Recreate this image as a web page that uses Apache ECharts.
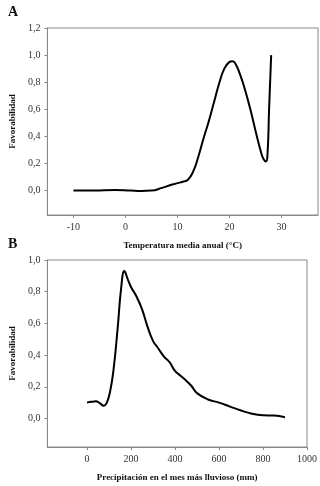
<!DOCTYPE html>
<html>
<head>
<meta charset="utf-8">
<script src="https://cdn.jsdelivr.net/npm/echarts@6/dist/echarts.min.js"></script>
<style>
  html, body { margin: 0; padding: 0; background: #fff; }
  #main { width: 320px; height: 486px; }
</style>
</head>
<body>
<div id="main"></div>
<script>
// panel A: temperatura media anual
const tempX = [-10, -6, -2, 1, 3, 5, 7, 9, 10, 11, 12, 13, 14, 15, 16, 17, 18, 19, 20, 20.5, 21, 22, 23, 24, 25, 26, 26.5, 27, 27.3, 27.6, 27.85, 28];
const tempFav = [0, 0, 0.005, 0, -0.003, 0, 0.02, 0.045, 0.055, 0.065, 0.08, 0.14, 0.25, 0.385, 0.51, 0.65, 0.79, 0.9, 0.95, 0.955, 0.945, 0.86, 0.74, 0.6, 0.44, 0.29, 0.235, 0.215, 0.27, 0.6, 0.85, 1.0];
const tempTicks = [-10, 0, 10, 20, 30];

// panel B: precipitación en el mes más lluvioso
const precX = [0, 20, 40, 60, 75, 90, 105, 120, 140, 155, 170, 185, 200, 225, 250, 275, 300, 325, 350, 375, 400, 425, 450, 475, 500, 550, 600, 650, 700, 750, 800, 850, 900];
const precFav = [0.1, 0.105, 0.108, 0.095, 0.08, 0.1, 0.17, 0.3, 0.58, 0.82, 0.93, 0.88, 0.83, 0.77, 0.69, 0.58, 0.49, 0.44, 0.39, 0.355, 0.3, 0.27, 0.24, 0.205, 0.16, 0.12, 0.1, 0.075, 0.05, 0.03, 0.02, 0.018, 0.008];
const precTicks = [0, 200, 400, 600, 800, 1000];

const favTicksA = [0, 0.2, 0.4, 0.6, 0.8, 1.0, 1.2];
const favTicksB = [0, 0.2, 0.4, 0.6, 0.8, 1.0];

const serif = '"Liberation Serif", "DejaVu Serif", serif';
const comma = v => v.toFixed(1).replace('.', ',');

function xAx(idx, min, max, ticks, name) {
  return {
    type: 'value', gridIndex: idx, min: min, max: max,
    splitLine: { show: false },
    axisLine: { onZero: false, lineStyle: { color: '#888', width: 1 } },
    axisTick: { customValues: ticks, length: 3, lineStyle: { color: '#888' } },
    axisLabel: { customValues: ticks, formatter: v => String(v), fontFamily: serif, fontSize: 10, color: '#333', margin: 7 },
    name: name, nameLocation: 'middle', nameGap: 26,
    nameTextStyle: { fontFamily: serif, fontSize: 9, fontWeight: 'bold', color: '#111' }
  };
}

function yAx(idx, max, ticks) {
  return {
    type: 'value', gridIndex: idx, min: -0.18, max: max,
    splitLine: { show: false },
    axisLine: { show: true, onZero: false, lineStyle: { color: '#888', width: 1 } },
    axisTick: { show: true, customValues: ticks, length: 3, lineStyle: { color: '#888' } },
    axisLabel: { customValues: ticks, formatter: comma, fontFamily: serif, fontSize: 10, color: '#333', margin: 7 },
    name: 'Favorabilidad', nameLocation: 'middle', nameGap: 27,
    nameTextStyle: { fontFamily: serif, fontSize: 9, fontWeight: 'bold', color: '#111' }
  };
}

const chart = echarts.init(document.getElementById('main'));
chart.setOption({
  animation: false,
  title: [
    { text: 'A', left: 3, top: 0, textStyle: { fontFamily: serif, fontSize: 14, fontWeight: 'bold', color: '#111' } },
    { text: 'B', left: 3, top: 232, textStyle: { fontFamily: serif, fontSize: 14, fontWeight: 'bold', color: '#111' } }
  ],
  grid: [
    { left: 46, top: 28, right: 2, height: 187, show: true, borderColor: '#888', borderWidth: 1 },
    { left: 46, top: 260, right: 11, height: 187, show: true, borderColor: '#888', borderWidth: 1 }
  ],
  xAxis: [
    xAx(0, -15, 37, tempTicks, 'Temperatura media anual (°C)'),
    xAx(1, -180, 1000, precTicks, 'Precipitación en el mes más lluvioso (mm)')
  ],
  yAxis: [
    yAx(0, 1.2, favTicksA),
    yAx(1, 1.0, favTicksB)
  ],
  series: [
    {
      type: 'line', xAxisIndex: 0, yAxisIndex: 0, smooth: 0.5, showSymbol: false,
      lineStyle: { color: '#000', width: 2 },
      data: tempX.map((x, i) => [x, tempFav[i]])
    },
    {
      type: 'line', xAxisIndex: 1, yAxisIndex: 1, smooth: 0.45, showSymbol: false,
      lineStyle: { color: '#000', width: 2 },
      data: precX.map((x, i) => [x, precFav[i]])
    }
  ]
});
</script>
</body>
</html>
